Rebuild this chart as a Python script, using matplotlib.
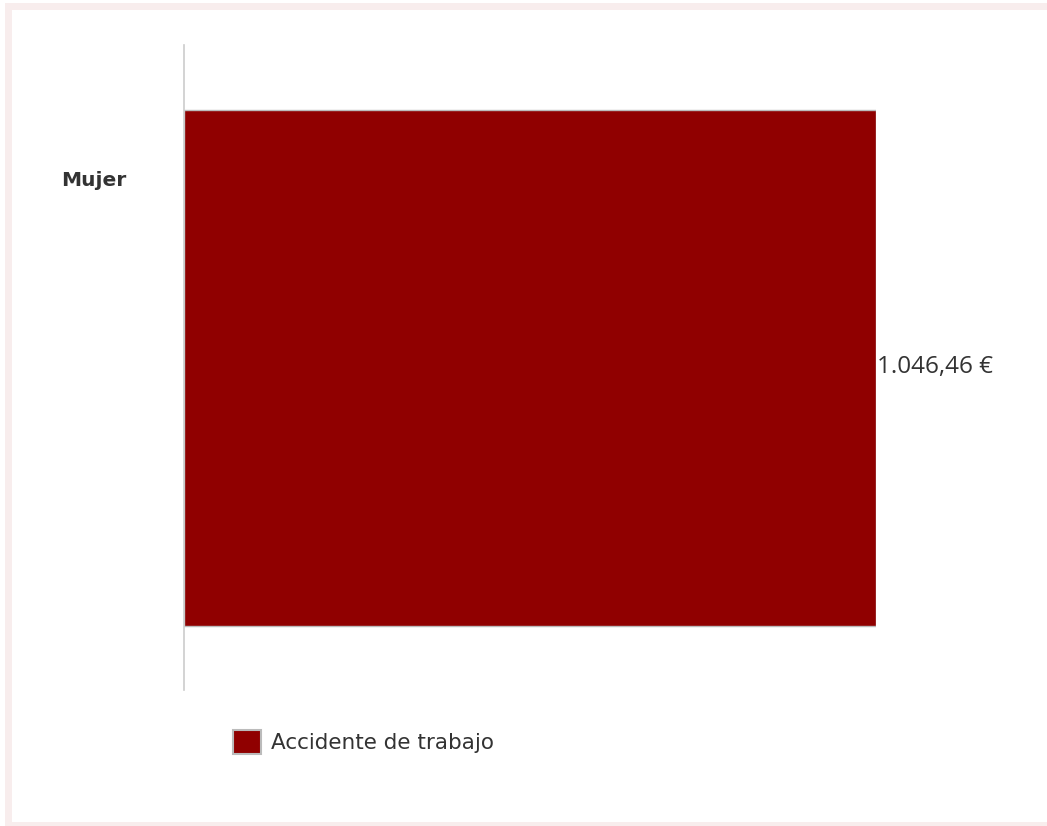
import matplotlib.pyplot as plt
from matplotlib.patches import Rectangle, Patch

# datos
categorias = ["Mujer"]
valores = [1046.46]
serie = "Accidente de trabajo"
etiquetas = ["1.046,46 €"]

W, H = 1047, 826
fig = plt.figure(figsize=(W / 100, H / 100), dpi=100)
fig.patch.set_facecolor("white")

# marco rosado alrededor
marco = Rectangle((5 / W, 0), 1.0, (H - 3) / H, transform=fig.transFigure,
                  facecolor="#f8eded", edgecolor="none", zorder=-10)
interior = Rectangle((12 / W, 4 / H), 1.0, (H - 14) / H, transform=fig.transFigure,
                     facecolor="white", edgecolor="none", zorder=-9)
fig.add_artist(marco)
fig.add_artist(interior)

# ejes: x 184..876 px, y 45..690 px
ax = fig.add_axes([184 / W, (H - 690) / H, (876 - 184) / W, 645 / H])
ax.set_facecolor("none")
ax.set_zorder(1)
ax.barh([0], valores, height=0.8, color="#900000", edgecolor="#bbbbbb", linewidth=1)
ax.set_xlim(0, valores[0])
ax.set_ylim(-0.5, 0.5)

for s in ["top", "right", "bottom"]:
    ax.spines[s].set_visible(False)
ax.spines["left"].set_color("#cccccc")
ax.spines["left"].set_linewidth(1.2)
ax.set_xticks([])
ax.set_yticks([])

# etiqueta de categoría
fig.text(94 / W, (H - 181) / H, categorias[0], ha="center", va="center",
         fontsize=14.5, color="#333333", family="DejaVu Sans", weight="semibold", zorder=2)

# etiqueta de valor
ax.text(valores[0] + 2, 0, etiquetas[0], ha="left", va="center",
        fontsize=17.5, color="#333333", family="Open Sans", clip_on=False)

# leyenda
leg = fig.legend(handles=[Patch(facecolor="#900000", edgecolor="#bbbbbb", linewidth=1.5, label=serie)],
                 loc="center left", bbox_to_anchor=(233 / W, (H - 742) / H),
                 frameon=False, fontsize=15.5, handlelength=1.3, handleheight=1.4,
                 handletextpad=0.45, borderaxespad=0, borderpad=0)
for t in leg.get_texts():
    t.set_color("#333333")

fig.savefig("out.png", dpi=100)
